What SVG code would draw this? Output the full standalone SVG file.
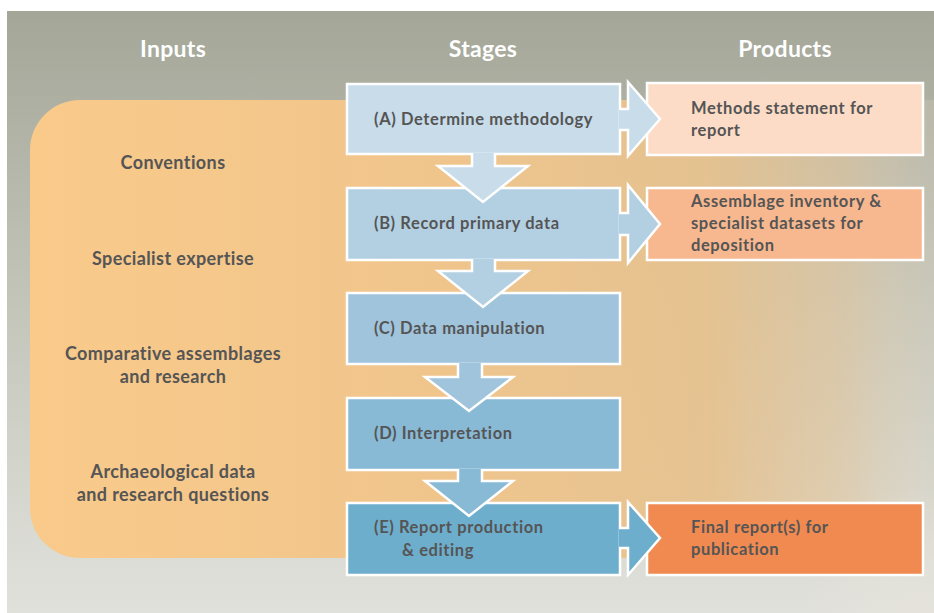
<svg xmlns="http://www.w3.org/2000/svg" width="934" height="613" viewBox="0 0 934 613">
<defs>
<linearGradient id="bg" x1="0" y1="0" x2="0" y2="1">
<stop offset="0" stop-color="#a4a698"/>
<stop offset="0.5" stop-color="#c4c6ba"/>
<stop offset="1" stop-color="#e1e1dc"/>
</linearGradient>
<linearGradient id="orange" x1="0" y1="0" x2="1" y2="0">
<stop offset="0" stop-color="#f9ca8a"/>
<stop offset="0.45" stop-color="#f0c58c"/>
<stop offset="0.75" stop-color="#e6c28f" stop-opacity="0.95"/>
<stop offset="0.9" stop-color="#e3c79e" stop-opacity="0.6"/>
<stop offset="1" stop-color="#e2d6c2" stop-opacity="0.2"/>
</linearGradient>
<radialGradient id="glow" cx="0.95" cy="0.95" r="0.35">
<stop offset="0" stop-color="#e4e2da" stop-opacity="0.9"/>
<stop offset="1" stop-color="#e4e2da" stop-opacity="0"/>
</radialGradient>
<style>
.hdr{font-family:"Lato","Open Sans",sans-serif;font-weight:bold;font-size:23px;fill:#ffffff;text-anchor:middle;letter-spacing:0.3px}
.inp{font-family:"Lato","Open Sans",sans-serif;font-weight:bold;font-size:18px;fill:#555555;text-anchor:middle;letter-spacing:0.4px}
.lbl{font-family:"Lato","Open Sans",sans-serif;font-weight:bold;font-size:16.5px;fill:#555555;letter-spacing:0.6px}
.box{stroke:#ffffff;stroke-width:2.5}
.arr{stroke:#ffffff;stroke-width:2.5;stroke-linejoin:miter}
</style>
</defs>
<rect x="0" y="0" width="934" height="613" fill="#ffffff"/>
<rect x="7" y="11" width="927" height="602" fill="url(#bg)"/>
<path d="M80,100 H934 V558 H80 A50,50 0 0 1 30,508 V150 A50,50 0 0 1 80,100 Z" fill="url(#orange)"/>
<rect x="600" y="300" width="334" height="313" fill="url(#glow)"/>

<g id="headers">
<text class="hdr" x="173" y="57">Inputs</text>
<text class="hdr" x="483" y="57">Stages</text>
<text class="hdr" x="785" y="57">Products</text>
</g>

<g id="inputs">
<text class="inp" x="173" y="169">Conventions</text>
<text class="inp" x="173" y="265">Specialist expertise</text>
<text class="inp" x="173" y="360">Comparative assemblages</text>
<text class="inp" x="173" y="383">and research</text>
<text class="inp" x="173" y="478">Archaeological data</text>
<text class="inp" x="173" y="501">and research questions</text>
</g>

<g id="products">
<g id="prodA">
<rect class="box" x="647" y="83" width="276" height="72" fill="#fcdcc6"/>
<text class="lbl" x="691" y="114">Methods statement for</text>
<text class="lbl" x="691" y="136">report</text>
</g>
<g id="prodB">
<rect class="box" x="647" y="188" width="276" height="72" fill="#f7b88f"/>
<text class="lbl" x="691" y="207">Assemblage inventory &amp;</text>
<text class="lbl" x="691" y="229">specialist datasets for</text>
<text class="lbl" x="691" y="251">deposition</text>
</g>
<g id="prodE">
<rect class="box" x="647" y="503" width="276" height="72" fill="#f08a51"/>
<text class="lbl" x="691" y="533">Final report(s) for</text>
<text class="lbl" x="691" y="555">publication</text>
</g>
</g>

<g id="stageA">
<rect class="box" x="347" y="84" width="273" height="70" fill="#c8dcea"/>
<text class="lbl" x="374" y="125">(A) Determine methodology</text>
</g>
<g id="stageB">
<rect class="box" x="347" y="188" width="273" height="72" fill="#b3d0e3"/>
<text class="lbl" x="374" y="229">(B) Record primary data</text>
</g>
<g id="stageC">
<rect class="box" x="347" y="293" width="273" height="71" fill="#a0c4dc"/>
<text class="lbl" x="374" y="334">(C) Data manipulation</text>
</g>
<g id="stageD">
<rect class="box" x="347" y="398" width="273" height="72" fill="#88b9d5"/>
<text class="lbl" x="374" y="439">(D) Interpretation</text>
</g>
<g id="stageE">
<rect class="box" x="347" y="503" width="273" height="72" fill="#6eaecd"/>
<text class="lbl" x="374" y="533">(E) Report production</text>
<text class="lbl" x="402" y="556">&amp; editing</text>
</g>

<g id="connectors">
<path class="arr" fill="#c8dcea" d="M619,109 H628 V82 L660,119 L628,156 V130 H619"/>
<path class="arr" fill="#b3d0e3" d="M619,213 H628 V185 L660,224 L628,263 V235 H619"/>
<path class="arr" fill="#6eaecd" d="M619,528 H628 V502 L660,538 L628,575 V548 H619"/>
<path class="arr" fill="#c8dcea" d="M472,153 V166 H438 L483,202 L528,166 H495 V153"/>
<path class="arr" fill="#b3d0e3" d="M472,259 V271 H438 L483,307 L528,271 H495 V259"/>
<path class="arr" fill="#a0c4dc" d="M458,363 V377 H425 L469,411 L513,377 H482 V363"/>
<path class="arr" fill="#88b9d5" d="M458,469 V481 H425 L469,516 L513,481 H482 V469"/>
</g>
</svg>
